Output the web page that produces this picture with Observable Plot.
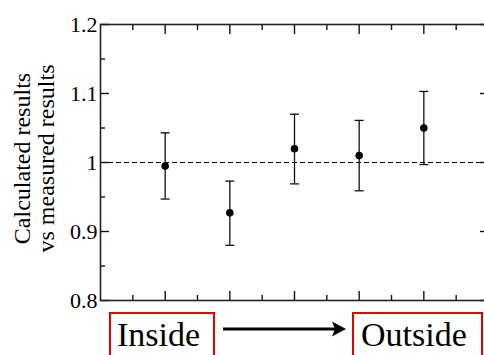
<!DOCTYPE html>
<html><head><meta charset="utf-8">
<script src="https://cdn.jsdelivr.net/npm/d3@7"></script>
<script src="https://cdn.jsdelivr.net/npm/@observablehq/plot@0.6"></script>
<style>
  html, body { margin: 0; padding: 0; background: #fff; overflow: hidden; }
  body, body * { font-family: 'Liberation Serif', 'Times New Roman', serif; }
</style>
</head>
<body style="font-size:22px">
<div id="chart" style="width:484px;height:315px"></div>
<div id="anno" style="position:relative;width:484px;height:40px;overflow:visible"></div>
<script>
// ---- data ----
const positions = [1, 2, 3, 4, 5];
const ratios    = [0.995, 0.927, 1.020, 1.010, 1.050];
const upperBars = [1.043, 0.973, 1.070, 1.061, 1.103];
const lowerBars = [0.947, 0.880, 0.969, 0.959, 0.997];
const yTicks      = [0.8, 0.9, 1, 1.1, 1.2];
const yTickLabels = ["0.8", "0.9", "1", "1.1", "1.2"];
const yMinorTicks = [0.85, 0.95, 1.05, 1.15];
const xMajorTicks = [1, 2, 3, 4, 5];
const xMinorTicks = [0.5, 1.5, 2.5, 3.5, 4.5, 5.5];
const yLabelLines = ["Calculated results", "vs measured results"];
const referenceValue = [1];
const groupLabels = ["Inside", "Outside"];

const rows = positions.map((x, i) => ({x, v: ratios[i], hi: upperBars[i], lo: lowerBars[i]}));

const capSymbol = {
  draw(ctx, size) {
    const w = Math.sqrt(size / Math.PI);
    ctx.moveTo(-w, 0);
    ctx.lineTo(w, 0);
  }
};

const ink = "#111";
const blank = () => "";
const serif = "Liberation Serif";

const chart = Plot.plot({
  width: 484,
  height: 315,
  marginTop: 24,
  marginBottom: 15,
  marginLeft: 100,
  marginRight: -4,
  x: {domain: [0, 6], axis: null, label: null},
  y: {domain: [0.8, 1.2], axis: null, label: null},
  style: {fontFamily: serif, fontSize: "22px", color: "#000", background: "#fff", overflow: "hidden"},
  marks: [
    Plot.ruleY(referenceValue, {stroke: "#000", strokeWidth: 1.1, strokeDasharray: "5,3"}),
    // left axis
    Plot.axisY(yTicks, {anchor: "left", tickSize: -9, tickPadding: 12, strokeWidth: 1.4, stroke: ink,
      tickFormat: d => yTickLabels[yTicks.indexOf(d)], fontSize: 22, fontFamily: serif, fill: "#000", label: null}),
    Plot.axisY(yMinorTicks, {anchor: "left", tickSize: -5, strokeWidth: 1.4, stroke: ink, tickFormat: blank, label: null}),
    // right axis
    Plot.axisY(yTicks, {anchor: "right", tickSize: -9, strokeWidth: 1.4, stroke: ink, tickFormat: blank, label: null}),
    Plot.axisY(yMinorTicks, {anchor: "right", tickSize: -5, strokeWidth: 1.4, stroke: ink, tickFormat: blank, label: null}),
    // top axis
    Plot.axisX(xMajorTicks, {anchor: "top", tickSize: -9, strokeWidth: 1.4, stroke: ink, tickFormat: blank, label: null}),
    Plot.axisX(xMinorTicks, {anchor: "top", tickSize: -5, strokeWidth: 1.4, stroke: ink, tickFormat: blank, label: null}),
    // bottom axis
    Plot.axisX(xMajorTicks, {anchor: "bottom", tickSize: -9, strokeWidth: 1.4, stroke: ink, tickFormat: blank, label: null}),
    Plot.axisX(xMinorTicks, {anchor: "bottom", tickSize: -5, strokeWidth: 1.4, stroke: ink, tickFormat: blank, label: null}),
    Plot.frame({stroke: "#222", strokeWidth: 1.6}),
    // error bars
    Plot.ruleX(rows, {x: "x", y1: "lo", y2: "hi", stroke: ink, strokeWidth: 1.3}),
    Plot.dot(rows, {x: "x", y: "hi", symbol: capSymbol, r: 4.5, stroke: ink, strokeWidth: 1.3, fill: "none"}),
    Plot.dot(rows, {x: "x", y: "lo", symbol: capSymbol, r: 4.5, stroke: ink, strokeWidth: 1.3, fill: "none"}),
    Plot.dot(rows, {x: "x", y: "v", r: 3.8, fill: "#000", stroke: "none"}),
    // y label
    Plot.text([yLabelLines.join("\n")], {text: d => d, frameAnchor: "left", rotate: -90, dx: -66, dy: -4,
      fontSize: 24, fontFamily: serif, lineHeight: 1, textAnchor: "middle", fill: "#000"})
  ]
});
document.getElementById("chart").appendChild(chart);

// ---- bottom annotation (Inside -> Outside) ----
const anno = document.getElementById("anno");
const boxSpecs = [{left: 109, width: 106, textLeft: 117}, {left: 352, width: 131, textLeft: 361}];
groupLabels.forEach((name, i) => {
  const b = document.createElement("div");
  b.style.cssText = "position:absolute;top:-3px;height:60px;border:2px solid #e60000;box-sizing:border-box";
  b.style.left = boxSpecs[i].left + "px";
  b.style.width = boxSpecs[i].width + "px";
  anno.appendChild(b);
  const t = document.createElement("div");
  t.style.cssText = "position:absolute;top:3px;font-size:34px;line-height:34px;color:#000;white-space:nowrap";
  t.style.left = boxSpecs[i].textLeft + "px";
  t.textContent = name;
  anno.appendChild(t);
});
const ns = "http://www.w3.org/2000/svg";
const svg = document.createElementNS(ns, "svg");
svg.setAttribute("style", "position:absolute;left:0;top:0");
svg.setAttribute("width", 484);
svg.setAttribute("height", 40);
const line = document.createElementNS(ns, "line");
line.setAttribute("x1", 223); line.setAttribute("x2", 336);
line.setAttribute("y1", 14); line.setAttribute("y2", 14);
line.setAttribute("stroke", "#000"); line.setAttribute("stroke-width", 3.2);
svg.appendChild(line);
const head = document.createElementNS(ns, "polygon");
head.setAttribute("points", "346,14 332,6.5 335,14 332,21.5");
head.setAttribute("fill", "#000");
svg.appendChild(head);
anno.appendChild(svg);
</script>
</body>
</html>
